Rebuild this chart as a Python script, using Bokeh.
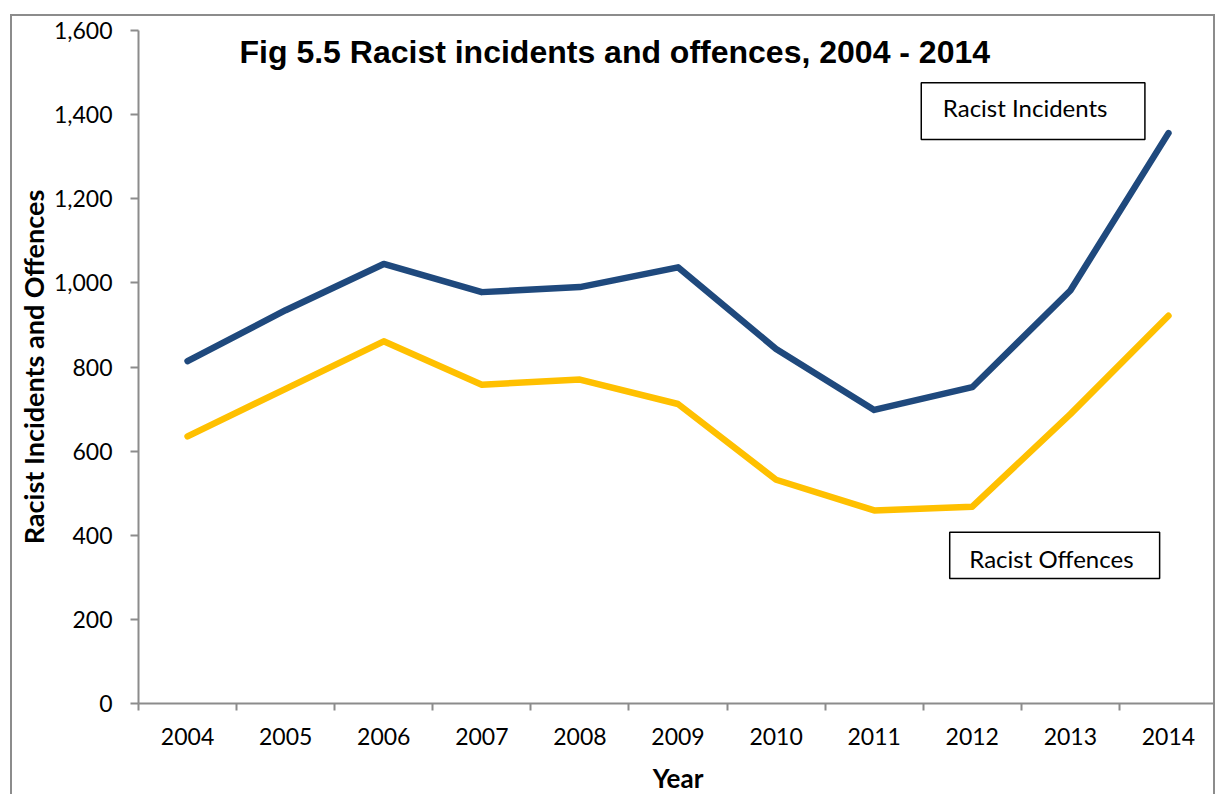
from bokeh.plotting import figure
from bokeh.models import (Range1d, LinearAxis, FixedTicker, Title,
                          NumeralTickFormatter, Label, BoxAnnotation)
from bokeh.embed import file_html
from bokeh.resources import INLINE

# ---- data ----
years = [2004, 2005, 2006, 2007, 2008, 2009, 2010, 2011, 2012, 2013, 2014]
incidents = [814, 935, 1045, 978, 990, 1037, 843, 698, 752, 982, 1356]
offences = [635, 748, 861, 758, 770, 712, 532, 459, 468, 688, 922]
y_ticks = [0, 200, 400, 600, 800, 1000, 1200, 1400, 1600]
title_text = "Fig 5.5 Racist incidents and offences, 2004 - 2014"
y_title = "Racist Incidents and Offences"
x_title = "Year"
label_incidents = "Racist Incidents"
label_offences = "Racist Offences"

BLUE = "#1F497D"
GOLD = "#FFC000"
AXIS = "#8c8c8c"
FONT = "Lato"

x0 = years[0] - 0.5
x1 = years[-1] + 0.5
p = figure(width=1205, height=780,
           x_range=Range1d(x0, x1),
           y_range=Range1d(0, 1600),
           x_axis_location=None, y_axis_location="left",
           output_backend="svg", toolbar_location=None,
           min_border_left=126, min_border_top=14, min_border_right=0, min_border_bottom=93)
p.styles = {"margin-left": "10px", "margin-top": "14px",
            "border-style": "solid", "border-color": "#8c8c8c",
            "border-width": "2px 2px 0px 2px"}
p.outline_line_color = None
p.xgrid.visible = False
p.ygrid.visible = False
p.background_fill_color = "white"
p.border_fill_color = "white"

# y axis
ya = p.yaxis[0]
ya.ticker = FixedTicker(ticks=y_ticks)
ya.formatter = NumeralTickFormatter(format="0,0")
ya.axis_line_color = AXIS
ya.axis_line_width = 2
ya.major_tick_line_color = AXIS
ya.major_tick_line_width = 2
ya.major_tick_in = 0
ya.major_tick_out = 8
ya.minor_tick_line_color = None
ya.major_label_text_font = FONT
ya.major_label_text_font_size = "23px"
ya.major_label_text_color = "black"
ya.major_label_standoff = 18

# y axis title (sits a little below the frame centre, as in the original)
p.add_layout(Title(text=y_title, align="center", offset=-54, standoff=2,
                   text_font=FONT, text_font_size="27px", text_font_style="bold",
                   text_color="black"), "left")

# x axis: labels at year centres, tick marks at the boundaries between years
edges = [y - 0.5 for y in years] + [years[-1] + 0.5]
xa = LinearAxis(ticker=FixedTicker(ticks=years, minor_ticks=edges),
                axis_line_color=AXIS, axis_line_width=2,
                major_tick_line_color=None, major_tick_in=0, major_tick_out=7,
                minor_tick_line_color=AXIS, minor_tick_line_width=2,
                minor_tick_in=0, minor_tick_out=7,
                major_label_text_font=FONT, major_label_text_font_size="23px",
                major_label_text_color="black", major_label_standoff=17,
                axis_label=x_title, axis_label_text_font=FONT,
                axis_label_text_font_size="26px", axis_label_text_font_style="bold",
                axis_label_text_color="black", axis_label_standoff=14)
p.add_layout(xa, "below")

# lines
p.line(years, incidents, line_color=BLUE, line_width=6.5, line_cap="round", line_join="round")
p.line(years, offences, line_color=GOLD, line_width=6.5, line_cap="round", line_join="round")

# title
p.add_layout(Label(x=x0 + 1.03, y=1549, text=title_text, text_font="Liberation Sans",
                   text_font_size="32px", text_font_style="bold", text_color="black",
                   text_baseline="alphabetic", text_align="left"))

# annotation boxes
p.add_layout(BoxAnnotation(left=x0 + 7.98, right=x0 + 10.26, bottom=1341, top=1476,
                           fill_color="white", fill_alpha=1, line_color="black",
                           line_alpha=1, line_width=1.5))
p.add_layout(Label(x=x0 + 8.2, y=1418, text=label_incidents, text_font=FONT,
                   text_font_size="24px", text_color="black",
                   text_baseline="alphabetic", text_align="left"))
p.add_layout(BoxAnnotation(left=x0 + 8.27, right=x0 + 10.41, bottom=297, top=407,
                           fill_color="white", fill_alpha=1, line_color="black",
                           line_alpha=1, line_width=1.5))
p.add_layout(Label(x=x0 + 8.47, y=344, text=label_offences, text_font=FONT,
                   text_font_size="24px", text_color="black",
                   text_baseline="alphabetic", text_align="left"))

open("out.html", "w").write(file_html(p, INLINE))
